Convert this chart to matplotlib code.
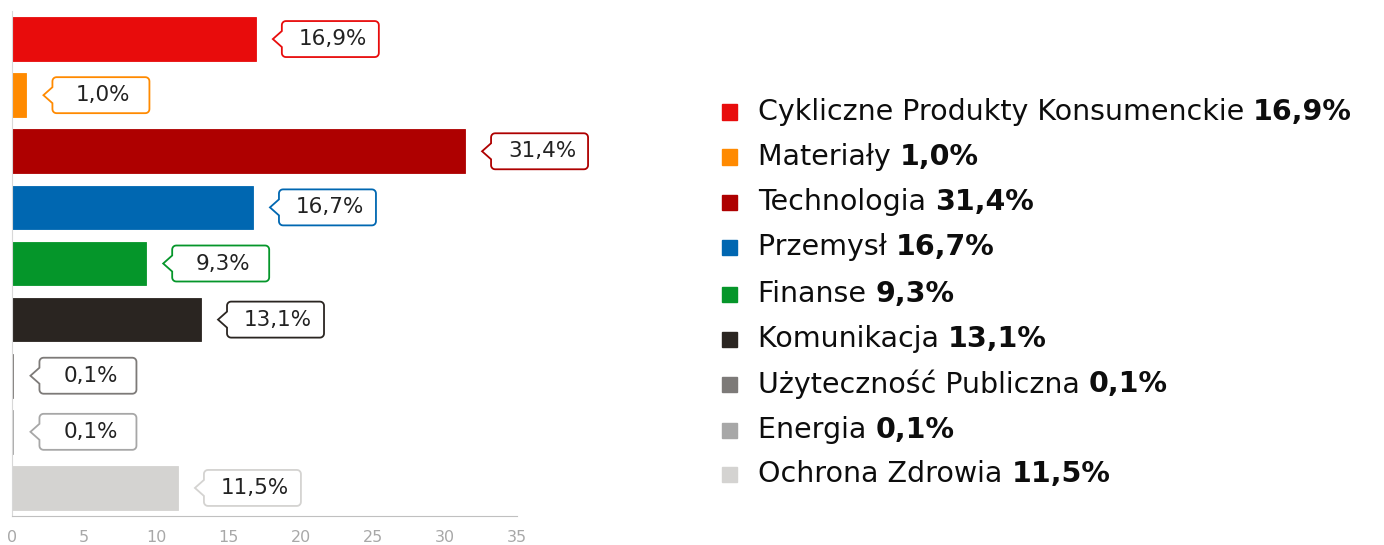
import matplotlib.pyplot as plt
import matplotlib.transforms as mtransforms
from matplotlib.path import Path
from matplotlib.patches import PathPatch
import numpy as np

plt.rcParams["font.family"] = ["DejaVu Sans"]

# sector shares (%), top to bottom
sectors = [
    "Cykliczne Produkty Konsumenckie",
    "Materiały",
    "Technologia",
    "Przemysł",
    "Finanse",
    "Komunikacja",
    "Użyteczność Publiczna",
    "Energia",
    "Ochrona Zdrowia",
]
shares = [16.9, 1.0, 31.4, 16.7, 9.3, 13.1, 0.1, 0.1, 11.5]
labels = ["16,9%", "1,0%", "31,4%", "16,7%", "9,3%", "13,1%", "0,1%", "0,1%", "11,5%"]
colors = ["#e80c0c", "#ff8a00", "#ae0000", "#0067b1", "#05962a",
          "#2a2521", "#7d7a78", "#a7a7a7", "#d4d3d1"]
x_ticks = [0, 5, 10, 15, 20, 25, 30, 35]

W, H = 1384, 545
fig = plt.figure(figsize=(W / 100, H / 100), dpi=100)
ax = fig.add_axes([12 / W, (H - 516) / H, 505 / W, 505 / H])

y = np.arange(len(shares))
ax.barh(y, shares, height=0.78, color=colors, edgecolor=colors, linewidth=0.6)
ax.set_ylim(len(shares) - 0.5, -0.5)
ax.set_xlim(0, 35)
ax.set_xticks(x_ticks)
ax.set_xticklabels([str(t) for t in x_ticks], color="#a8a8a8", fontsize=11.5)
ax.tick_params(axis="x", length=0, pad=10)
ax.set_yticks([])
for s in ["top", "right"]:
    ax.spines[s].set_visible(False)
ax.spines["left"].set_color("#d8d8d8")
ax.spines["bottom"].set_color("#c0c0c0")


def callout_path(tip=17, x0=26, x1=123, h=18, r=4, p=8):
    # box with a small pointer on the left, in pixels around the bar end
    pts = [(tip, 0), (x0, -p), (x0, -h + r)]
    for a in np.linspace(np.pi, 1.5 * np.pi, 6):
        pts.append((x0 + r + r * np.cos(a), -h + r + r * np.sin(a)))
    for a in np.linspace(1.5 * np.pi, 2 * np.pi, 6):
        pts.append((x1 - r + r * np.cos(a), -h + r + r * np.sin(a)))
    for a in np.linspace(0, 0.5 * np.pi, 6):
        pts.append((x1 - r + r * np.cos(a), h - r + r * np.sin(a)))
    for a in np.linspace(0.5 * np.pi, np.pi, 6):
        pts.append((x0 + r + r * np.cos(a), h - r + r * np.sin(a)))
    pts.append((x0, p))
    pts.append((tip, 0))
    return Path(pts, closed=True)


for i, (v, lab, c) in enumerate(zip(shares, labels, colors)):
    tr = mtransforms.Affine2D() + mtransforms.ScaledTranslation(v, i, ax.transData)
    ax.add_patch(PathPatch(callout_path(), facecolor="white", edgecolor=c,
                           lw=1.3, transform=tr, clip_on=False))
    ax.annotate(lab, xy=(v, i), xytext=(77 * 0.72, 0), textcoords="offset points",
                ha="center", va="center", fontsize=15.5, color="#222222")

# legend on the right
row_y = [112, 157, 202, 247, 294, 339, 384, 430, 474]
for name, lab, c, ry in zip(sectors, labels, colors, row_y):
    yf = (H - ry) / H
    fig.patches.append(plt.Rectangle((722 / W, yf - 7.5 / H), 15 / W, 15 / H,
                                     color=c, transform=fig.transFigure))
    t = fig.text(758 / W, yf, name + " ", fontsize=20.5, va="center", color="#0d0d0d")
    ax.annotate(lab, xy=(1, 0.5), xycoords=t, va="center", ha="left",
                fontsize=20.5, fontweight="bold", color="#0d0d0d",
                annotation_clip=False)

fig.savefig("out.png", dpi=100)
